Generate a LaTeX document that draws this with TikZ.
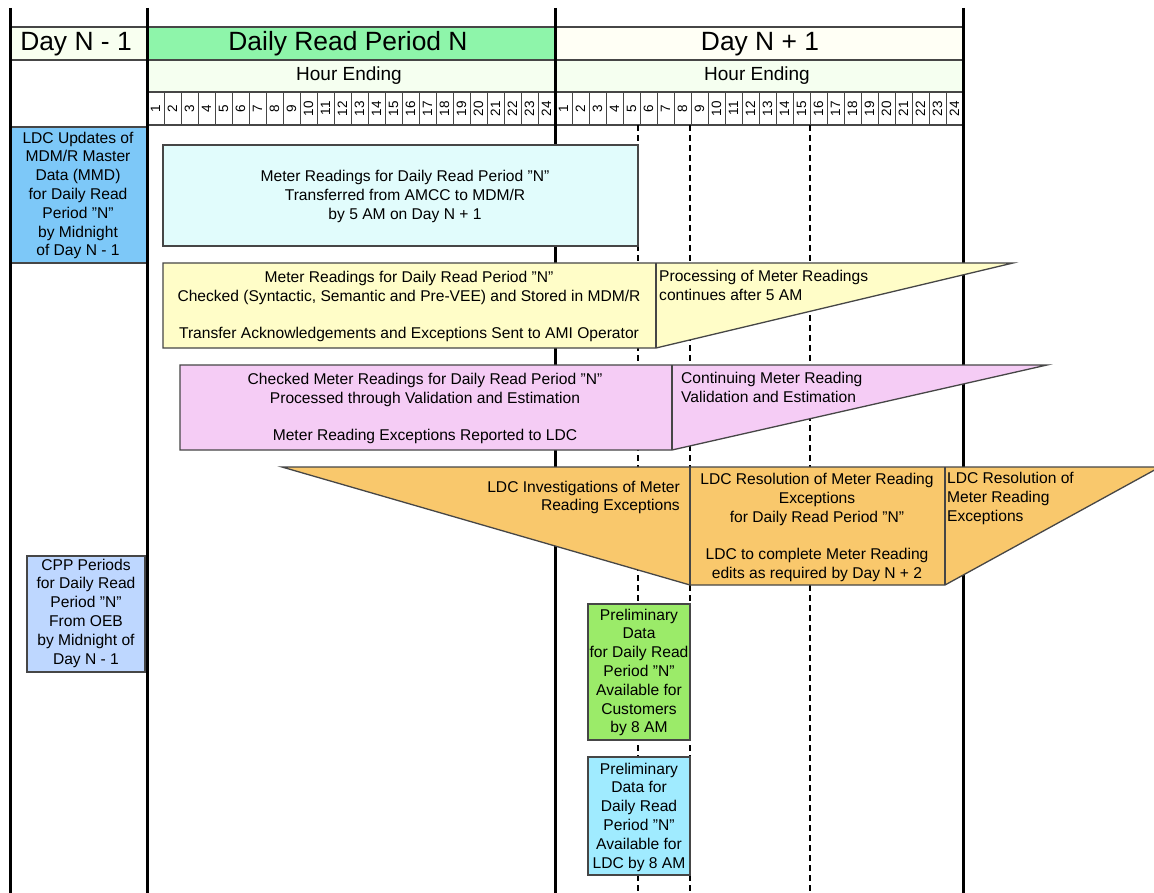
\documentclass[tikz,border=0pt]{standalone}
\usepackage{fontspec}
\setmainfont{Liberation Sans}
\newcommand{\qmark}{\symbol{34}}
\definecolor{hdrgreen}{RGB}{142,245,170}
\definecolor{dayfillA}{RGB}{248,255,240}
\definecolor{dayfillB}{RGB}{255,255,245}
\definecolor{hourfill}{RGB}{245,255,240}
\definecolor{linegray}{RGB}{70,70,70}
\definecolor{ldcblue}{RGB}{125,200,248}
\definecolor{cyanlight}{RGB}{225,252,252}
\definecolor{yellowfill}{RGB}{255,253,200}
\definecolor{pinkfill}{RGB}{245,204,245}
\definecolor{orangefill}{RGB}{249,200,108}
\definecolor{cppblue}{RGB}{190,215,255}
\definecolor{greenfill}{RGB}{155,235,105}
\definecolor{cyanfill}{RGB}{160,235,255}
\begin{document}
\begin{tikzpicture}[x=1pt,y=-1pt,
  box/.style={draw=linegray, line width=1.3pt, line join=miter},
  hline/.style={draw=linegray, line width=1.3pt},
  cellline/.style={draw=linegray, line width=0.9pt},
  thickline/.style={draw=black, line width=3pt},
  dashline/.style={draw=black, line width=1.4pt, dash pattern=on 6pt off 4pt},
  txt/.style={align=center, font=\fontsize{15.6}{18.8}\selectfont, inner sep=0pt, text=black},
  big/.style={font=\fontsize{26.4}{30}\selectfont, inner sep=0pt},
  mid/.style={font=\fontsize{19}{22}\selectfont, inner sep=0pt},
  hour/.style={font=\fontsize{13.5}{15}\selectfont, inner sep=0pt, rotate=90}]
\useasboundingbox (0,0) rectangle (1154,893);
\fill[white] (0,0) rectangle (1154,893);
% header fills
\fill[dayfillA] (10,27) rectangle (147,60);
\fill[hdrgreen] (147,27) rectangle (555,60);
\fill[dayfillB] (555,27) rectangle (963,60);
\fill[hourfill] (147,60) rectangle (963,92);
\draw[hline] (10,27) -- (963,27);
\draw[hline] (10,60) -- (963,60);
\draw[hline] (147,92) -- (963,92);
\draw[hline] (147,125) -- (963,125);
\foreach \i in {1,...,47} {\draw[cellline] (147+17*\i,92) -- (147+17*\i,125);}
\foreach \i in {1,...,24} {
  \node[hour] (hA\i) at (147+17*\i-8.5,108.5) {\i};
  \node[hour] (hB\i) at (555+17*\i-8.5,108.5) {\i};
}
\node[big] (dayprev) at (76,44) {Day N - 1};
\node[big] (dayn) at (348,44) {Daily Read Period N};
\node[big] (daynext) at (760,44) {Day N + 1};
\node[mid] (heA) at (349,76) {Hour Ending};
\node[mid] (heB) at (757,76) {Hour Ending};
% left column boxes
\draw[box, fill=ldcblue] (10,127) rectangle (147,263);
\node[txt] (ldctxt) at (78,195.5) {LDC Updates of\\MDM/R Master\\Data (MMD)\\for Daily Read\\Period \qmark N\qmark\\by Midnight\\of Day N - 1};
\draw[box, fill=cppblue] (27,556) rectangle (145,672);
\node[txt] (cpptxt) at (86,613) {CPP Periods\\for Daily Read\\Period \qmark N\qmark\\From OEB\\by Midnight of\\Day N - 1};
% main vertical lines
\draw[thickline] (10,8) -- (10,893);
\draw[thickline] (147,8) -- (147,893);
\draw[thickline] (555,8) -- (555,893);
\draw[thickline] (963,8) -- (963,893);
\draw[dashline] (638,125) -- (638,893);
\draw[dashline] (690,125) -- (690,893);
\draw[dashline] (810,125) -- (810,893);
% transfer box
\draw[box, fill=cyanlight] (163,145) rectangle (638,246);
\node[txt] (transfer) at (405,196.5) {Meter Readings for Daily Read Period \qmark N\qmark\\Transferred from AMCC to MDM/R\\by 5 AM on Day N + 1};
% checked (yellow)
\draw[box, fill=yellowfill] (163,263) -- (1013,263) -- (656,348) -- (163,348) -- cycle;
\draw[box] (656,263) -- (656,348);
\node[txt] (checked) at (409,306.5) {Meter Readings for Daily Read Period \qmark N\qmark\\Checked (Syntactic, Semantic and Pre-VEE) and Stored in MDM/R\\[18.8pt]Transfer Acknowledgements and Exceptions Sent to AMI Operator};
\node[txt, align=left, anchor=west] (processing) at (659,285.5) {Processing of Meter Readings\\continues after 5 AM};
% VEE (pink)
\draw[box, fill=pinkfill] (180,365) -- (1047,365) -- (672,450) -- (180,450) -- cycle;
\draw[box] (672,365) -- (672,450);
\node[txt] (vee) at (425,408.5) {Checked Meter Readings for Daily Read Period \qmark N\qmark\\Processed through Validation and Estimation\\[18.8pt]Meter Reading Exceptions Reported to LDC};
\node[txt, align=left, anchor=west] (continuing) at (681,387.5) {Continuing Meter Reading\\Validation and Estimation};
% LDC investigations (orange)
\draw[box, fill=orangefill] (282,467) -- (1160,467) -- (945,585) -- (690,585) -- cycle;
\draw[box] (690,467) -- (690,585);
\draw[box] (945,467) -- (945,585);
\node[txt, align=right, anchor=east] (invest) at (680,497.5) {LDC Investigations of Meter\\Reading Exceptions};
\node[txt] (resol) at (817,527.5) {LDC Resolution of Meter Reading\\Exceptions\\for Daily Read Period \qmark N\qmark\\[18.8pt]LDC to complete Meter Reading\\edits as required by Day N + 2};
\node[txt, align=left, anchor=west] (resol2) at (947,498.5) {LDC Resolution of\\Meter Reading\\Exceptions};
% preliminary data boxes
\draw[box, fill=greenfill] (588,604) rectangle (690,740);
\node[txt] (prelcust) at (639,672.5) {Preliminary\\Data\\for Daily Read\\Period \qmark N\qmark\\Available for\\Customers\\by 8 AM};
\draw[box, fill=cyanfill] (588,757) rectangle (690,875);
\node[txt] (prelldc) at (639,817) {Preliminary\\Data for\\Daily Read\\Period \qmark N\qmark\\Available for\\LDC by 8 AM};
\end{tikzpicture}
\end{document}
